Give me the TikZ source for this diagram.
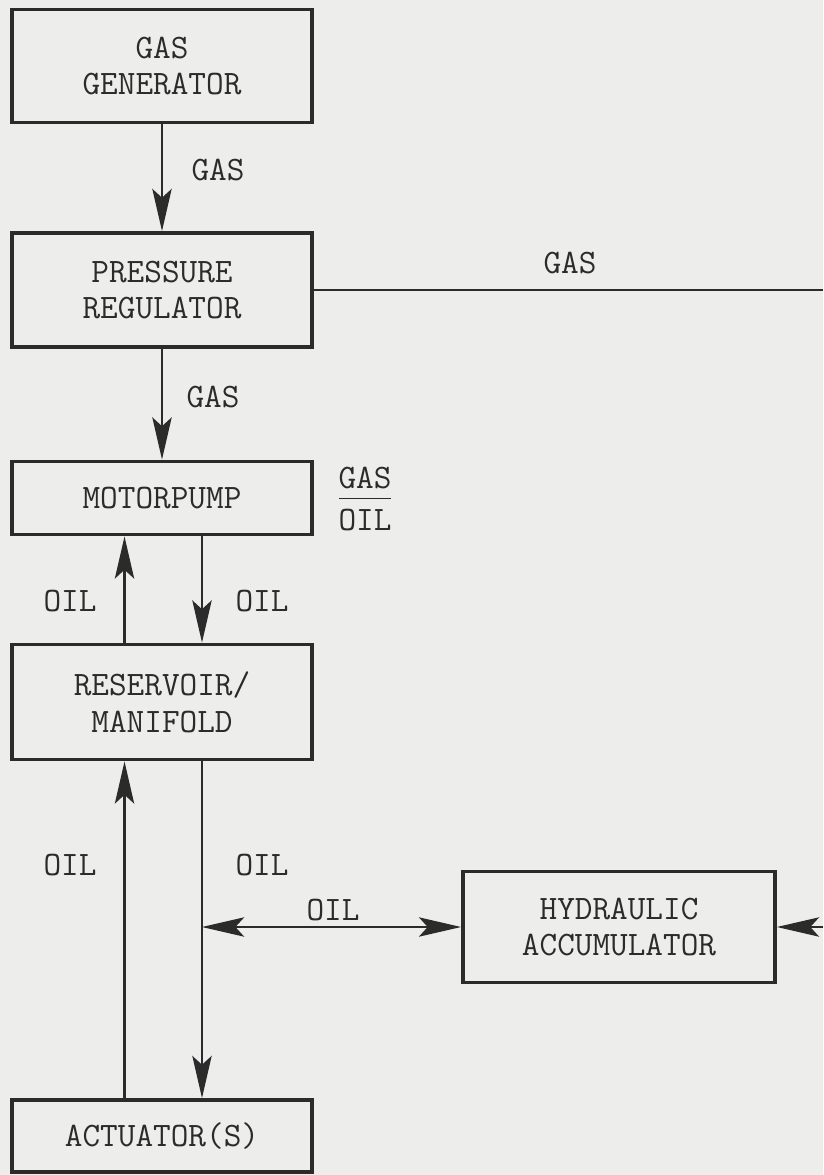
\documentclass[tikz,border=0pt]{standalone}
\usepackage{tikz}
\usetikzlibrary{positioning, calc, arrows.meta}
\definecolor{paper}{HTML}{EDEDEB}
\definecolor{ink}{HTML}{2B2B2B}
\tikzset{
  unitbox/.style={draw=ink, line width=2.2pt, fill=paper, minimum width=6cm,
    align=center, inner sep=0pt, text=ink},
  flow/.style={draw=ink, line width=1.3pt, -{Stealth[length=24pt, width=11pt, inset=5pt]}},
  bothflow/.style={draw=ink, line width=1.3pt, {Stealth[length=24pt, width=11pt, inset=5pt]}-{Stealth[length=24pt, width=11pt, inset=5pt]}},
  plain/.style={draw=ink, line width=1.3pt},
  lbl/.style={text=ink, inner sep=0pt}
}
\begin{document}
\begin{tikzpicture}[x=0.02cm, y=-0.02cm, font=\ttfamily\fontsize{19.5}{21}\selectfont]

    % --- Page ---
    \fill[paper] (0,0) rectangle (823,1175);
    \useasboundingbox (0,0) rectangle (823,1175);

    % --- Left column of blocks ---
    \node[unitbox, minimum height=2.26cm] (gasgen) at (162,66) {GAS\\GENERATOR};
    \node[unitbox, minimum height=2.28cm] (preg) at (162,290) {PRESSURE\\REGULATOR};
    \node[unitbox, minimum height=1.46cm] (mpump) at (162,498) {MOTORPUMP};
    \node[unitbox, minimum height=2.3cm] (resv) at (162,702) {RESERVOIR/\\MANIFOLD};
    \node[unitbox, minimum height=1.44cm] (act) at (162,1136) {ACTUATOR(S)};

    % --- Accumulator ---
    \node[unitbox, minimum width=6.24cm, minimum height=2.22cm] (accum) at (619,927) {HYDRAULIC\\ACCUMULATOR};

    % --- Gas lines ---
    \draw[flow] (gasgen.south) -- (preg.north);
    \node[lbl] (gaslbla) at (218,170) {GAS};
    \draw[flow] (preg.south) -- (mpump.north);
    \node[lbl] (gaslblb) at (213,397) {GAS};
    \coordinate (gasedge) at (823,290);
    \draw[plain] (preg.east) -- (gasedge);
    \node[lbl] (gaslblc) at (570,263) {GAS};
    \coordinate (accedge) at (823,927);
    \draw[flow] (accedge) -- (accum.east);

    % --- GAS/OIL mark ---
    \node[lbl] (mixlbl) at (365,502) {\begin{tabular}{@{}c@{}}GAS\\[-1pt]\hline\rule{0pt}{18pt}OIL\end{tabular}};

    % --- Oil lines, pump <-> reservoir ---
    \draw[flow] ([xshift=-0.75cm]resv.north) -- ([xshift=-0.75cm]mpump.south);
    \draw[flow] ([xshift=0.8cm]mpump.south) -- ([xshift=0.8cm]resv.north);
    \node[lbl] (oillbla) at (70,601) {OIL};
    \node[lbl] (oillblb) at (262,601) {OIL};

    % --- Oil lines, reservoir <-> actuators ---
    \draw[flow] ([xshift=-0.75cm]act.north) -- ([xshift=-0.75cm]resv.south);
    \draw[flow] ([xshift=0.8cm]resv.south) -- ([xshift=0.8cm]act.north);
    \node[lbl] (oillblc) at (70,865) {OIL};
    \node[lbl] (oillbld) at (262,865) {OIL};

    % --- Branch to accumulator ---
    \coordinate (tee) at ($([xshift=0.8cm]resv.south)!0.5!([xshift=0.8cm]act.north)$);
    \draw[bothflow] (tee |- accum.west) -- (accum.west);
    \node[lbl] (oillble) at (333,910) {OIL};

\end{tikzpicture}
\end{document}
